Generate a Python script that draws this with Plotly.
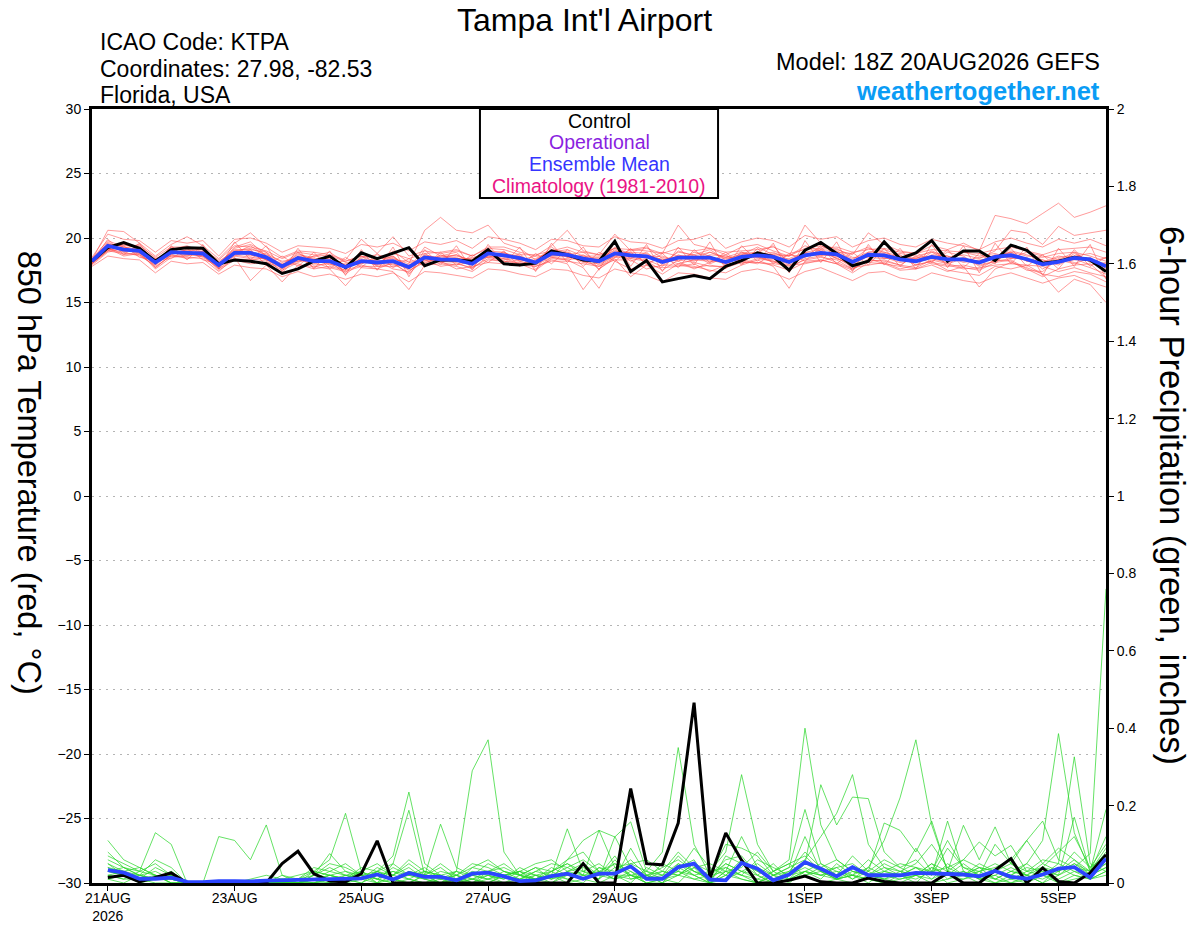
import pandas as pd
import plotly.graph_objects as go

# 6-hourly steps from the 18Z 20AUG2026 run, 16 days
times = pd.date_range("2026-08-20 18:00", periods=65, freq="6h")
precip_times = times[1:]

tick_dates = ["2026-08-21", "2026-08-23", "2026-08-25", "2026-08-27",
              "2026-08-29", "2026-09-01", "2026-09-03", "2026-09-05"]
tick_text = ["21AUG<br>2026", "23AUG", "25AUG", "27AUG", "29AUG", "1SEP", "3SEP", "5SEP"]

# 850 hPa temperature, deg C
temp_control = [18.2, 19.25, 19.65, 19.2, 18.2, 19.1, 19.25, 19.2, 18.0, 18.3,
                18.2, 18.0, 17.25, 17.6, 18.2, 18.6, 17.7, 18.85, 18.4, 18.8,
                19.25, 17.85, 18.3, 18.3, 18.2, 19.1, 18.0, 17.9, 18.05, 19.0,
                18.7, 18.3, 18.2, 19.75, 17.4, 18.25, 16.6, 16.85, 17.1, 16.85,
                17.8, 18.25, 18.85, 18.55, 17.5, 19.05, 19.65, 18.8, 17.85, 18.2,
                19.7, 18.4, 18.85, 19.8, 18.2, 19.0, 19.0, 18.25, 19.45, 19.05,
                18.05, 18.2, 18.5, 18.3, 17.4]
temp_mean = [18.2, 19.4, 19.1, 19.0, 18.1, 18.9, 18.85, 18.8, 17.9, 18.85,
             18.85, 18.5, 17.8, 18.45, 18.2, 18.2, 17.75, 18.2, 18.1, 18.2,
             17.75, 18.5, 18.35, 18.3, 18.0, 18.8, 18.65, 18.45, 18.1, 18.8,
             18.7, 18.4, 18.2, 18.8, 18.66, 18.58, 18.14, 18.48, 18.48, 18.48,
             18.14, 18.53, 18.66, 18.53, 18.14, 18.66, 18.84, 18.74, 18.14, 18.7,
             18.66, 18.35, 18.2, 18.53, 18.35, 18.35, 18.1, 18.53, 18.66, 18.35,
             17.96, 18.14, 18.45, 18.35, 17.8]

T01 = [18.1, 19.3, 19.5, 19.2, 18.3, 19.0, 18.7, 18.9, 18.0, 19.2,
       19.5, 18.9, 17.6, 18.6, 18.4, 18.0, 17.5, 18.5, 18.7, 18.4,
       18.0, 20.6, 21.6, 20.6, 20.4, 21.0, 19.6, 19.2, 18.3, 19.1,
       18.9, 18.2, 17.8, 18.5, 19.1, 19.3, 18.4, 18.0, 18.3, 18.9,
       18.5, 18.2, 18.0, 18.8, 18.6, 19.4, 19.0, 18.4, 18.0, 18.9,
       19.1, 18.7, 17.9, 18.2, 18.9, 18.6, 17.8, 18.2, 19.0, 18.7,
       18.3, 17.9, 18.6, 18.8, 18.4]
T02 = [18.0, 19.0, 18.8, 18.7, 17.8, 18.6, 18.5, 18.4, 17.4, 18.5,
       16.7, 17.9, 16.6, 17.9, 17.8, 17.6, 16.3, 17.7, 17.6, 17.4,
       16.0, 17.9, 18.0, 17.8, 17.4, 18.3, 18.2, 18.0, 17.5, 18.4,
       18.3, 17.7, 16.1, 18.2, 17.6, 17.9, 17.2, 18.0, 17.8, 17.5,
       17.3, 17.9, 18.3, 17.8, 16.1, 18.2, 18.3, 18.0, 17.3, 18.1,
       18.0, 17.5, 17.6, 17.9, 17.4, 17.8, 16.2, 17.6, 18.1, 17.7,
       17.2, 15.8, 16.8, 16.4, 15.0]
T03 = [18.3, 20.6, 20.5, 19.6, 18.6, 19.5, 20.1, 19.4, 18.4, 19.6,
       20.4, 19.3, 18.5, 19.0, 18.9, 18.7, 18.3, 19.9, 18.8, 20.1,
       18.6, 19.0, 18.8, 19.0, 18.6, 19.3, 19.3, 18.9, 18.6, 19.4,
       20.6, 19.0, 18.7, 20.3, 19.0, 19.2, 18.8, 21.0, 19.5, 19.2,
       18.7, 19.3, 19.5, 19.0, 18.6, 21.0, 19.6, 19.1, 18.7, 20.4,
       19.5, 19.0, 18.8, 19.4, 19.1, 19.6, 19.0, 21.75, 21.5, 21.1,
       21.9, 22.7, 21.6, 22.0, 22.5]
T04 = [18.4, 19.8, 19.3, 19.1, 18.0, 19.2, 19.0, 18.6, 17.9, 19.0,
       19.0, 18.3, 17.9, 18.9, 18.0, 18.5, 17.9, 18.0, 18.4, 18.6,
       17.6, 19.3, 18.6, 18.9, 17.7, 19.0, 18.9, 18.2, 18.4, 19.0,
       18.5, 18.6, 18.6, 19.2, 18.4, 18.9, 17.9, 19.0, 18.6, 18.9,
       18.4, 18.7, 19.3, 18.7, 18.6, 19.2, 19.4, 18.9, 18.3, 19.2,
       18.9, 18.6, 18.4, 19.0, 18.5, 18.7, 18.4, 19.0, 20.6, 20.4,
       19.5, 20.9, 20.2, 20.4, 20.6]
T05 = [18.0, 19.5, 18.9, 19.3, 17.7, 18.7, 19.1, 18.9, 17.6, 18.6,
       18.4, 18.2, 17.5, 18.1, 18.6, 18.4, 17.3, 18.6, 17.8, 18.0,
       17.3, 18.8, 18.1, 17.9, 18.2, 18.5, 18.3, 18.8, 17.6, 18.5,
       18.4, 18.7, 17.9, 18.6, 18.9, 18.0, 18.5, 18.2, 17.6, 18.1,
       18.7, 18.0, 18.4, 18.2, 17.8, 18.3, 18.5, 18.3, 17.6, 18.3,
       18.2, 17.9, 18.6, 18.0, 17.8, 17.9, 17.6, 18.3, 18.2, 17.5,
       17.4, 18.4, 18.1, 17.7, 17.2]
T06 = [18.2, 19.2, 19.3, 18.8, 18.4, 18.9, 18.6, 19.0, 18.2, 19.0,
       19.2, 18.7, 18.2, 18.4, 17.9, 18.0, 17.9, 18.0, 18.5, 18.3,
       18.2, 18.2, 18.6, 18.6, 18.3, 18.6, 18.4, 18.0, 18.3, 18.9,
       18.8, 18.3, 18.5, 19.0, 18.8, 18.5, 18.6, 18.2, 18.9, 18.6,
       17.9, 18.9, 18.5, 18.3, 18.4, 18.9, 18.6, 19.2, 18.5, 18.5,
       18.4, 18.5, 17.9, 18.7, 18.6, 18.1, 18.3, 18.4, 18.9, 18.2,
       18.3, 18.0, 18.8, 18.2, 18.0]
T07 = [18.1, 19.1, 18.9, 18.6, 17.9, 18.8, 18.9, 18.5, 17.7, 18.9,
       18.6, 18.8, 17.6, 18.3, 18.1, 18.5, 17.6, 18.3, 17.9, 18.2,
       17.5, 18.1, 18.4, 18.5, 17.9, 18.9, 18.5, 18.6, 18.0, 18.6,
       18.6, 18.1, 18.0, 18.6, 18.5, 18.3, 17.8, 18.7, 18.3, 18.2,
       18.2, 18.6, 18.9, 18.6, 17.9, 18.5, 19.1, 18.4, 17.9, 18.6,
       18.5, 18.1, 18.3, 18.4, 18.1, 18.5, 17.9, 18.2, 18.4, 18.5,
       17.6, 18.3, 18.0, 18.5, 17.6]
T08 = [18.3, 19.6, 19.0, 19.1, 18.2, 18.6, 18.7, 18.8, 18.1, 18.7,
       18.9, 18.3, 17.9, 18.7, 18.5, 17.9, 18.0, 18.1, 18.3, 17.9,
       17.9, 18.6, 18.1, 18.4, 18.4, 18.7, 18.9, 18.3, 18.2, 19.3,
       18.5, 18.5, 18.3, 19.1, 18.2, 18.6, 18.3, 18.5, 18.2, 18.7,
       18.6, 18.3, 18.7, 18.9, 18.3, 18.8, 18.7, 18.6, 18.0, 18.8,
       18.7, 18.2, 18.5, 18.6, 18.0, 18.4, 18.2, 18.7, 18.5, 18.3,
       18.1, 18.6, 18.4, 17.9, 18.1]
T09 = [17.9, 18.9, 19.2, 18.9, 18.0, 19.1, 18.8, 18.6, 17.8, 18.7,
       18.5, 18.4, 17.9, 18.0, 17.6, 17.8, 17.5, 17.9, 17.6, 18.1,
       17.2, 18.4, 18.2, 17.6, 17.8, 18.1, 18.0, 17.9, 17.8, 18.3,
       18.0, 16.0, 17.6, 18.4, 17.0, 17.9, 17.7, 17.8, 18.0, 17.4,
       17.9, 18.3, 18.1, 17.9, 17.5, 18.1, 18.2, 18.5, 17.7, 17.9,
       18.1, 17.6, 17.9, 18.2, 17.5, 17.3, 17.1, 17.8, 17.6, 17.9,
       17.2, 17.0, 17.4, 17.2, 16.6]
T10 = [18.2, 19.7, 19.0, 19.0, 18.1, 19.3, 18.9, 19.2, 17.9, 19.3,
       19.7, 18.6, 17.8, 18.8, 18.3, 18.3, 17.8, 18.4, 18.0, 18.5,
       17.8, 18.6, 18.5, 18.7, 18.1, 18.7, 18.8, 18.6, 18.0, 18.9,
       19.1, 18.6, 18.4, 18.9, 18.9, 18.8, 18.1, 18.9, 18.7, 19.1,
       18.3, 18.8, 18.9, 19.4, 18.0, 18.9, 19.1, 19.0, 18.4, 18.9,
       18.9, 18.4, 18.1, 18.9, 18.6, 18.2, 18.5, 18.6, 18.9, 18.6,
       18.5, 18.8, 18.9, 18.6, 18.2]
T11 = [18.0, 19.3, 18.7, 18.9, 17.6, 18.5, 18.6, 18.7, 17.5, 18.3,
       18.0, 18.1, 17.7, 18.5, 18.1, 17.7, 17.4, 17.8, 17.8, 17.8,
       17.9, 18.3, 17.8, 18.0, 17.7, 18.4, 18.2, 18.1, 17.8, 18.2,
       18.2, 18.0, 17.8, 18.3, 18.3, 17.6, 17.9, 17.9, 17.7, 17.9,
       17.7, 18.1, 18.1, 18.0, 17.9, 18.0, 18.3, 18.0, 17.5, 18.4,
       18.0, 17.8, 17.6, 18.1, 17.9, 17.6, 17.7, 17.9, 18.0, 17.9,
       17.8, 17.4, 17.7, 17.3, 17.0]
T12 = [18.4, 19.5, 19.4, 19.4, 18.5, 19.3, 19.3, 19.1, 18.3, 19.4,
       19.3, 19.0, 18.4, 18.9, 18.7, 18.6, 18.2, 18.6, 18.4, 18.8,
       18.4, 18.8, 18.9, 19.1, 18.6, 19.2, 19.1, 18.7, 18.7, 19.0,
       19.3, 18.9, 18.7, 19.2, 19.1, 19.0, 18.8, 19.2, 19.0, 19.2,
       18.9, 19.0, 19.1, 19.3, 18.8, 19.1, 19.2, 19.3, 18.9, 19.1,
       19.2, 18.9, 18.8, 19.1, 19.0, 18.9, 18.8, 19.1, 19.3, 19.0,
       18.7, 19.1, 19.2, 19.3, 18.9]
T13 = [18.0, 19.0, 19.6, 19.3, 18.2, 19.1, 19.4, 18.9, 17.8, 18.8,
       19.4, 18.6, 18.0, 18.2, 18.6, 18.9, 18.1, 18.2, 17.9, 19.0,
       18.1, 18.0, 18.7, 18.2, 18.5, 18.5, 18.6, 18.3, 18.6, 18.6,
       18.7, 18.9, 18.1, 19.3, 18.7, 18.4, 18.9, 18.6, 18.7, 18.0,
       18.5, 18.9, 18.6, 18.1, 18.7, 18.5, 19.4, 18.9, 18.8, 19.3,
       18.4, 18.8, 18.6, 18.9, 18.3, 18.9, 18.6, 18.8, 18.4, 18.9,
       18.6, 18.3, 18.9, 18.1, 18.5]
T14 = [18.3, 19.2, 18.6, 18.8, 17.7, 18.7, 18.4, 18.6, 17.6, 18.4,
       18.3, 18.5, 17.3, 18.6, 17.7, 18.2, 17.2, 18.1, 18.2, 17.6,
       17.4, 18.3, 18.2, 18.1, 17.6, 18.6, 18.4, 18.2, 17.9, 18.5,
       18.3, 18.5, 17.6, 18.5, 18.4, 18.2, 17.5, 18.3, 18.1, 17.8,
       17.8, 18.4, 18.5, 18.2, 17.6, 18.4, 18.6, 18.1, 17.6, 18.2,
       18.3, 17.9, 17.7, 18.3, 18.0, 17.7, 17.5, 18.1, 18.3, 17.6,
       17.0, 17.6, 17.9, 18.0, 16.9]
T15 = [18.1, 19.4, 19.2, 19.5, 18.4, 18.8, 19.0, 19.3, 18.1, 19.1,
       19.1, 18.9, 18.1, 18.5, 18.2, 18.1, 18.2, 18.6, 18.1, 18.6,
       17.7, 18.7, 18.4, 18.7, 18.2, 18.9, 18.7, 18.5, 18.1, 18.7,
       18.9, 18.4, 18.2, 18.7, 18.6, 18.7, 18.3, 18.6, 18.5, 18.6,
       18.1, 18.7, 18.8, 18.7, 18.2, 18.8, 18.9, 18.8, 18.2, 18.7,
       18.8, 18.3, 18.4, 18.6, 18.4, 18.3, 18.2, 18.5, 18.8, 18.2,
       18.0, 18.5, 18.6, 18.4, 17.9]
T16 = [18.2, 19.1, 19.2, 18.7, 18.0, 19.0, 18.8, 19.0, 17.7, 18.9,
       18.7, 18.3, 17.7, 18.2, 18.3, 18.2, 17.7, 18.2, 18.2, 18.1,
       17.6, 18.4, 18.3, 18.2, 17.9, 18.7, 18.6, 18.4, 18.2, 18.7,
       18.6, 18.2, 18.3, 18.8, 18.6, 18.6, 18.1, 18.4, 18.4, 18.3,
       18.0, 18.5, 18.6, 18.4, 18.1, 18.6, 18.7, 18.6, 18.1, 18.6,
       18.6, 18.3, 18.1, 18.5, 18.3, 18.4, 18.0, 18.5, 18.6, 18.4,
       17.9, 18.2, 18.3, 18.4, 17.7]
T17 = [18.5, 20.3, 19.9, 19.8, 18.9, 19.8, 19.6, 19.8, 18.6, 19.9,
       20.0, 19.6, 18.9, 19.4, 19.3, 19.2, 18.8, 19.5, 19.3, 19.6,
       19.0, 19.7, 19.5, 19.8, 19.2, 20.1, 19.9, 19.6, 19.1, 19.9,
       19.8, 19.4, 19.3, 20.1, 19.7, 19.6, 19.2, 19.8, 19.9, 20.3,
       19.2, 19.7, 20.0, 19.8, 19.3, 20.2, 19.9, 20.1, 19.3, 19.8,
       20.0, 19.5, 19.3, 19.9, 19.6, 19.4, 19.1, 19.7, 20.0, 19.6,
       19.3, 19.9, 19.6, 19.9, 19.4]
T18 = [17.8, 18.6, 18.4, 18.3, 17.3, 18.2, 18.0, 18.1, 17.2, 17.9,
       17.7, 17.6, 17.0, 17.4, 17.0, 17.2, 16.8, 17.2, 17.0, 17.3,
       16.6, 17.4, 17.3, 17.1, 16.9, 17.6, 17.5, 17.2, 17.0, 17.6,
       17.5, 17.1, 16.9, 17.6, 17.3, 17.1, 16.6, 17.3, 17.2, 16.9,
       16.8, 17.4, 17.6, 17.3, 16.8, 17.4, 17.7, 17.2, 16.7, 17.3,
       17.4, 16.9, 16.7, 17.3, 17.0, 16.7, 16.5, 17.0, 17.3, 16.9,
       16.5, 16.9, 17.1, 16.6, 16.2]
T19 = [18.2, 19.9, 18.7, 19.6, 17.9, 19.4, 18.3, 19.5, 17.6, 19.7,
       18.3, 19.4, 17.4, 19.2, 17.6, 19.0, 17.1, 19.1, 17.5, 19.3,
       17.0, 19.1, 17.9, 19.4, 17.5, 19.5, 18.0, 19.3, 17.4, 19.6,
       18.1, 19.3, 17.5, 19.7, 17.8, 19.5, 17.4, 19.3, 17.9, 19.7,
       17.6, 19.4, 18.2, 19.6, 17.3, 19.8, 18.1, 19.7, 17.4, 19.5,
       17.9, 19.2, 17.6, 19.5, 17.7, 19.4, 17.3, 19.6, 18.0, 19.3,
       17.1, 19.2, 17.8, 19.5, 16.8]
T20 = [18.1, 19.0, 19.4, 18.5, 18.3, 18.4, 19.2, 18.3, 18.0, 18.6,
       19.1, 17.9, 18.6, 17.8, 18.9, 17.6, 18.5, 17.7, 18.8, 17.7,
       18.4, 17.8, 18.9, 17.9, 18.7, 18.1, 19.0, 17.8, 18.8, 18.0,
       19.1, 17.8, 18.9, 18.2, 19.2, 17.9, 18.8, 17.7, 19.1, 18.1,
       18.9, 17.9, 19.2, 18.0, 18.8, 18.2, 19.3, 18.0, 18.9, 17.9,
       19.2, 17.8, 18.9, 18.1, 19.1, 17.7, 18.8, 18.0, 19.2, 17.8,
       18.7, 17.6, 19.1, 17.8, 18.5]

# 6-hour precipitation, inches (first value ends at 00Z 21AUG)
precip_control = [0.014, 0.02, 0.003, 0.014, 0.026, 0, 0, 0, 0, 0,
                  0, 0.05, 0.082, 0.024, 0.005, 0.003, 0.024, 0.109, 0, 0,
                  0, 0, 0, 0, 0, 0, 0, 0, 0, 0,
                  0.05, 0, 0, 0.244, 0.05, 0.047, 0.155, 0.466, 0.011, 0.129,
                  0.059, 0, 0, 0.007, 0.018, 0.003, 0, 0, 0.013, 0.004,
                  0, 0, 0, 0.026, 0, 0, 0.033, 0.063, 0, 0.039,
                  0.004, 0, 0.026, 0.073]
precip_mean = [0.033, 0.027, 0.011, 0.011, 0.014, 0.003, 0.002, 0.005, 0.005, 0.004,
               0.006, 0.007, 0.008, 0.008, 0.009, 0.010, 0.012, 0.022, 0.009, 0.026,
               0.016, 0.016, 0.007, 0.024, 0.027, 0.017, 0.005, 0.007, 0.018, 0.024,
               0.011, 0.024, 0.024, 0.043, 0.011, 0.011, 0.041, 0.05, 0.009, 0.007,
               0.052, 0.037, 0.007, 0.022, 0.054, 0.037, 0.017, 0.041, 0.02, 0.02,
               0.02, 0.026, 0.024, 0.022, 0.022, 0.017, 0.031, 0.016, 0.011, 0.022,
               0.037, 0.041, 0.014, 0.063]

P01 = [0.03, 0.02, 0.01, 0.0, 0.0, 0.0, 0.0, 0.0, 0.0, 0.01,
       0.02, 0.01, 0.0, 0.03, 0.02, 0.01, 0.0, 0.03, 0.02, 0.01,
       0.0, 0.01, 0.03, 0.29, 0.37, 0.08, 0.02, 0.01, 0.0, 0.03,
       0.05, 0.02, 0.01, 0.03, 0.0, 0.0, 0.02, 0.05, 0.0, 0.01,
       0.03, 0.02, 0.0, 0.01, 0.05, 0.03, 0.01, 0.0, 0.02, 0.01,
       0.0, 0.02, 0.03, 0.0, 0.01, 0.02, 0.0, 0.01, 0.03, 0.02,
       0.0, 0.01, 0.02, 0.05]
P02 = [0.11, 0.06, 0.04, 0.02, 0.0, 0.0, 0.0, 0.12, 0.11, 0.06,
       0.15, 0.02, 0.0, 0.01, 0.02, 0.01, 0.03, 0.0, 0.01, 0.02,
       0.01, 0.0, 0.02, 0.01, 0.0, 0.02, 0.03, 0.01, 0.02, 0.14,
       0.03, 0.01, 0.12, 0.04, 0.02, 0.0, 0.05, 0.02, 0.0, 0.02,
       0.01, 0.0, 0.02, 0.04, 0.19, 0.05, 0.03, 0.02, 0.01, 0.0,
       0.02, 0.04, 0.02, 0.16, 0.03, 0.01, 0.02, 0.0, 0.01, 0.04,
       0.02, 0.17, 0.03, 0.19]
P03 = [0.07, 0.05, 0.03, 0.13, 0.1, 0.0, 0.0, 0.0, 0.0, 0.0,
       0.0, 0.02, 0.01, 0.04, 0.03, 0.02, 0.01, 0.0, 0.02, 0.05,
       0.02, 0.0, 0.01, 0.03, 0.02, 0.0, 0.01, 0.03, 0.05, 0.04,
       0.02, 0.01, 0.04, 0.02, 0.01, 0.03, 0.08, 0.04, 0.0, 0.03,
       0.02, 0.01, 0.03, 0.06, 0.4, 0.15, 0.06, 0.03, 0.02, 0.01,
       0.03, 0.02, 0.01, 0.03, 0.02, 0.04, 0.03, 0.01, 0.0, 0.02,
       0.05, 0.03, 0.01, 0.03]
P04 = [0.05, 0.03, 0.02, 0.01, 0.02, 0.0, 0.0, 0.0, 0.0, 0.0,
       0.0, 0.01, 0.02, 0.03, 0.06, 0.18, 0.03, 0.01, 0.04, 0.02,
       0.03, 0.02, 0.0, 0.01, 0.03, 0.02, 0.0, 0.02, 0.03, 0.01,
       0.0, 0.04, 0.02, 0.05, 0.03, 0.08, 0.35, 0.1, 0.02, 0.03,
       0.12, 0.04, 0.02, 0.0, 0.03, 0.02, 0.01, 0.03, 0.02, 0.04,
       0.02, 0.0, 0.04, 0.02, 0.01, 0.03, 0.05, 0.03, 0.02, 0.01,
       0.03, 0.05, 0.02, 0.04]
P05 = [0.04, 0.02, 0.02, 0.03, 0.01, 0.0, 0.0, 0.0, 0.0, 0.0,
       0.0, 0.0, 0.01, 0.02, 0.04, 0.02, 0.01, 0.03, 0.07, 0.235,
       0.05, 0.02, 0.03, 0.01, 0.0, 0.02, 0.01, 0.03, 0.02, 0.01,
       0.02, 0.03, 0.05, 0.02, 0.0, 0.01, 0.04, 0.02, 0.03, 0.08,
       0.28, 0.1, 0.03, 0.01, 0.02, 0.03, 0.01, 0.02, 0.04, 0.11,
       0.22, 0.37, 0.15, 0.03, 0.02, 0.04, 0.01, 0.03, 0.05, 0.02,
       0.01, 0.03, 0.02, 0.06]
P06 = [0.02, 0.01, 0.03, 0.02, 0.0, 0.0, 0.0, 0.0, 0.0, 0.0,
       0.0, 0.0, 0.0, 0.01, 0.02, 0.03, 0.02, 0.0, 0.05, 0.188,
       0.02, 0.152, 0.04, 0.02, 0.03, 0.05, 0.02, 0.01, 0.03, 0.05,
       0.03, 0.02, 0.07, 0.01, 0.02, 0.04, 0.06, 0.03, 0.01, 0.05,
       0.03, 0.05, 0.02, 0.04, 0.06, 0.12, 0.18, 0.28, 0.1, 0.04,
       0.03, 0.02, 0.05, 0.03, 0.06, 0.04, 0.03, 0.02, 0.05, 0.11,
       0.386, 0.13, 0.03, 0.08]
P07 = [0.03, 0.04, 0.02, 0.06, 0.04, 0.0, 0.0, 0.0, 0.0, 0.0,
       0.0, 0.01, 0.0, 0.02, 0.05, 0.04, 0.02, 0.03, 0.01, 0.03,
       0.02, 0.05, 0.02, 0.0, 0.03, 0.04, 0.02, 0.04, 0.01, 0.06,
       0.08, 0.03, 0.02, 0.02, 0.03, 0.01, 0.03, 0.09, 0.04, 0.02,
       0.05, 0.03, 0.01, 0.03, 0.05, 0.254, 0.15, 0.222, 0.218, 0.08,
       0.04, 0.06, 0.02, 0.09, 0.04, 0.02, 0.1, 0.05, 0.03, 0.06,
       0.05, 0.326, 0.05, 0.03]
P08 = [0.01, 0.02, 0.01, 0.01, 0.03, 0.0, 0.0, 0.0, 0.0, 0.0,
       0.0, 0.0, 0.0, 0.0, 0.01, 0.02, 0.01, 0.02, 0.03, 0.01,
       0.03, 0.02, 0.0, 0.04, 0.03, 0.02, 0.03, 0.02, 0.01, 0.02,
       0.01, 0.04, 0.03, 0.06, 0.02, 0.03, 0.02, 0.05, 0.03, 0.04,
       0.02, 0.06, 0.04, 0.02, 0.03, 0.05, 0.02, 0.04, 0.03, 0.155,
       0.136, 0.08, 0.16, 0.03, 0.149, 0.06, 0.145, 0.05, 0.11, 0.16,
       0.06, 0.04, 0.076, 0.76]
P09 = [0.06, 0.04, 0.02, 0.01, 0.03, 0.0, 0.0, 0.0, 0.0, 0.0,
       0.0, 0.0, 0.0, 0.02, 0.076, 0.03, 0.01, 0.04, 0.02, 0.06,
       0.03, 0.01, 0.02, 0.04, 0.06, 0.03, 0.02, 0.0, 0.03, 0.06,
       0.11, 0.136, 0.119, 0.158, 0.03, 0.02, 0.05, 0.03, 0.02, 0.1,
       0.09, 0.07, 0.02, 0.03, 0.08, 0.04, 0.06, 0.03, 0.02, 0.05,
       0.03, 0.05, 0.1, 0.04, 0.06, 0.106, 0.07, 0.097, 0.03, 0.04,
       0.08, 0.12, 0.04, 0.1]
P10 = [0.04, 0.03, 0.04, 0.02, 0.01, 0.0, 0.0, 0.0, 0.0, 0.0,
       0.0, 0.0, 0.01, 0.03, 0.02, 0.01, 0.04, 0.03, 0.05, 0.02,
       0.01, 0.03, 0.02, 0.05, 0.04, 0.02, 0.03, 0.05, 0.06, 0.03,
       0.02, 0.136, 0.04, 0.05, 0.06, 0.03, 0.02, 0.04, 0.05, 0.03,
       0.04, 0.08, 0.03, 0.05, 0.07, 0.03, 0.04, 0.05, 0.02, 0.03,
       0.05, 0.04, 0.03, 0.11, 0.04, 0.03, 0.04, 0.06, 0.11, 0.05,
       0.09, 0.06, 0.03, 0.05]
P11 = [0.02, 0.01, 0.01, 0.04, 0.02, 0.0, 0.0, 0.0, 0.0, 0.0,
       0.0, 0.0, 0.0, 0.0, 0.0, 0.01, 0.0, 0.02, 0.01, 0.0,
       0.02, 0.0, 0.01, 0.02, 0.01, 0.0, 0.02, 0.01, 0.04, 0.02,
       0.01, 0.0, 0.02, 0.01, 0.02, 0.0, 0.04, 0.06, 0.0, 0.02,
       0.06, 0.03, 0.01, 0.02, 0.04, 0.02, 0.03, 0.01, 0.04, 0.02,
       0.01, 0.02, 0.04, 0.02, 0.03, 0.01, 0.02, 0.04, 0.02, 0.0,
       0.04, 0.02, 0.01, 0.02]
P12 = [0.05, 0.02, 0.01, 0.01, 0.01, 0.0, 0.0, 0.0, 0.0, 0.0,
       0.0, 0.0, 0.0, 0.01, 0.0, 0.02, 0.03, 0.01, 0.0, 0.01,
       0.0, 0.02, 0.0, 0.01, 0.02, 0.01, 0.04, 0.02, 0.01, 0.03,
       0.04, 0.02, 0.05, 0.03, 0.01, 0.02, 0.03, 0.01, 0.02, 0.06,
       0.07, 0.02, 0.05, 0.01, 0.03, 0.01, 0.05, 0.02, 0.06, 0.03,
       0.02, 0.04, 0.01, 0.05, 0.02, 0.05, 0.03, 0.02, 0.04, 0.03,
       0.02, 0.05, 0.03, 0.12]
P13 = [0.02, 0.03, 0.01, 0.02, 0.0, 0.0, 0.0, 0.0, 0.0, 0.0,
       0.0, 0.0, 0.01, 0.0, 0.02, 0.01, 0.03, 0.05, 0.02, 0.04,
       0.01, 0.0, 0.03, 0.02, 0.05, 0.03, 0.01, 0.02, 0.0, 0.02,
       0.03, 0.05, 0.02, 0.0, 0.04, 0.02, 0.07, 0.03, 0.01, 0.04,
       0.02, 0.0, 0.03, 0.05, 0.02, 0.04, 0.02, 0.07, 0.03, 0.01,
       0.02, 0.09, 0.03, 0.04, 0.02, 0.0, 0.03, 0.05, 0.02, 0.04,
       0.03, 0.06, 0.02, 0.04]
P14 = [0.08, 0.04, 0.03, 0.05, 0.02, 0.0, 0.0, 0.0, 0.0, 0.0,
       0.0, 0.0, 0.0, 0.01, 0.03, 0.05, 0.02, 0.01, 0.03, 0.02,
       0.04, 0.01, 0.0, 0.02, 0.01, 0.03, 0.02, 0.04, 0.03, 0.05,
       0.02, 0.01, 0.06, 0.02, 0.01, 0.05, 0.03, 0.02, 0.0, 0.07,
       0.05, 0.02, 0.0, 0.01, 0.03, 0.02, 0.04, 0.01, 0.03, 0.06,
       0.04, 0.02, 0.05, 0.01, 0.02, 0.03, 0.01, 0.0, 0.02, 0.05,
       0.03, 0.08, 0.04, 0.07]
P15 = [0.01, 0.0, 0.02, 0.01, 0.01, 0.0, 0.0, 0.0, 0.0, 0.0,
       0.0, 0.0, 0.0, 0.0, 0.0, 0.0, 0.01, 0.03, 0.01, 0.0,
       0.02, 0.01, 0.02, 0.0, 0.01, 0.02, 0.0, 0.01, 0.02, 0.0,
       0.01, 0.03, 0.01, 0.02, 0.0, 0.01, 0.02, 0.01, 0.0, 0.03,
       0.01, 0.0, 0.02, 0.01, 0.02, 0.0, 0.01, 0.02, 0.01, 0.0,
       0.01, 0.02, 0.0, 0.01, 0.03, 0.01, 0.0, 0.02, 0.01, 0.03,
       0.0, 0.02, 0.01, 0.03]
P16 = [0.03, 0.02, 0.0, 0.01, 0.02, 0.0, 0.0, 0.0, 0.0, 0.0,
       0.0, 0.0, 0.0, 0.0, 0.01, 0.0, 0.02, 0.01, 0.0, 0.03,
       0.02, 0.04, 0.01, 0.0, 0.02, 0.01, 0.03, 0.0, 0.02, 0.04,
       0.06, 0.03, 0.01, 0.09, 0.02, 0.01, 0.0, 0.04, 0.02, 0.05,
       0.03, 0.01, 0.0, 0.02, 0.12, 0.03, 0.01, 0.02, 0.0, 0.03,
       0.02, 0.01, 0.03, 0.02, 0.05, 0.02, 0.01, 0.03, 0.02, 0.0,
       0.02, 0.04, 0.03, 0.09]

temp_members = [T01, T02, T03, T04, T05, T06, T07, T08, T09, T10,
                T11, T12, T13, T14, T15, T16, T17, T18, T19, T20]
precip_members = [P01, P02, P03, P04, P05, P06, P07, P08, P09, P10,
                  P11, P12, P13, P14, P15, P16]

FONT = "Liberation Sans"
RED = "rgba(255,75,75,0.7)"
GREEN = "rgba(40,215,40,0.9)"
BLUE = "#2b45ff"

fig = go.Figure()

for member in temp_members:
    fig.add_trace(go.Scatter(x=times, y=member, mode="lines", yaxis="y",
                             line=dict(color=RED, width=0.8), hoverinfo="skip"))
for member in precip_members:
    fig.add_trace(go.Scatter(x=precip_times, y=member, mode="lines", yaxis="y2",
                             line=dict(color=GREEN, width=0.8), hoverinfo="skip"))

fig.add_trace(go.Scatter(x=times, y=temp_control, mode="lines", yaxis="y",
                         line=dict(color="black", width=3)))
fig.add_trace(go.Scatter(x=precip_times, y=precip_control, mode="lines", yaxis="y2",
                         line=dict(color="black", width=3)))
fig.add_trace(go.Scatter(x=times, y=temp_mean, mode="lines", yaxis="y",
                         line=dict(color=BLUE, width=3.8)))
fig.add_trace(go.Scatter(x=precip_times, y=precip_mean, mode="lines", yaxis="y2",
                         line=dict(color=BLUE, width=3.8)))

legend_rows = [
    ("Control", "black", 0.9845),
    ("Operational", "#8a1fe0", 0.957),
    ("Ensemble Mean", "#3535ff", 0.929),
    ("Climatology (1981-2010)", "#ea1384", 0.9005),
]

annotations = [
    dict(text="Tampa Int'l Airport", x=0.486, y=1.115, font=dict(size=32)),
    dict(text="ICAO Code: KTPA", x=0.006, y=1.0866, xanchor="left", font=dict(size=23)),
    dict(text="Coordinates: 27.98, -82.53", x=0.006, y=1.0523, xanchor="left", font=dict(size=23)),
    dict(text="Florida, USA", x=0.006, y=1.0185, xanchor="left", font=dict(size=23)),
    dict(text="Model: 18Z 20AUG2026 GEFS", x=0.9965, y=1.0607, xanchor="right", font=dict(size=23.5)),
    dict(text="<b>weathertogether.net</b>", x=0.9965, y=1.0238, xanchor="right",
         font=dict(size=25.5, color="#0a9cf5")),
    dict(text="850 hPa Temperature (red, °C)", x=-0.062, y=0.530, textangle=90, font=dict(size=32.5)),
    dict(text="6-hour Precipitation (green, inches)", x=1.065, y=0.5, textangle=90, font=dict(size=34.5)),
]
for label, color, ypos in legend_rows:
    annotations.append(dict(text=label, x=0.5, y=ypos, font=dict(size=19.5, color=color)))
for a in annotations:
    a.update(xref="paper", yref="paper", showarrow=False)
    a.setdefault("xanchor", "center")
    a["yanchor"] = "middle"
    a["font"] = dict(family=FONT, color=a["font"].get("color", "black"), size=a["font"]["size"])

fig.update_layout(
    width=1200,
    height=927,
    margin=dict(l=92, r=94, t=109, b=44),
    paper_bgcolor="white",
    plot_bgcolor="white",
    showlegend=False,
    font=dict(family=FONT, size=14, color="black"),
    annotations=annotations,
    shapes=[dict(type="rect", xref="paper", yref="paper", x0=0.3826, x1=0.6174, y0=0.885, y1=1.0,
                 line=dict(color="black", width=2), fillcolor="white", layer="above")],
    xaxis=dict(
        type="date",
        range=[times[0], times[-1]],
        tickvals=tick_dates,
        ticktext=tick_text,
        ticks="outside",
        ticklen=5,
        tickcolor="black",
        tickfont=dict(size=14),
        ticklabelstandoff=-5,
        showgrid=False,
        zeroline=False,
        showline=True,
        linecolor="black",
        linewidth=3,
        mirror=True,
        automargin=False,
    ),
    yaxis=dict(
        range=[-30, 30],
        dtick=5,
        ticks="outside",
        ticklen=5,
        tickcolor="black",
        tickfont=dict(size=14),
        showgrid=True,
        gridcolor="#b4b4b4",
        gridwidth=1,
        griddash="2px,5px",
        zeroline=False,
        showline=True,
        linecolor="black",
        linewidth=3,
        mirror=True,
        automargin=False,
    ),
    yaxis2=dict(
        range=[0, 2],
        dtick=0.2,
        overlaying="y",
        side="right",
        ticks="outside",
        ticklen=5,
        tickcolor="black",
        tickfont=dict(size=14),
        showgrid=False,
        zeroline=False,
        showline=True,
        linecolor="black",
        linewidth=3,
        automargin=False,
    ),
)

# drop the browser's default page margin so the figure sits at the window's corner
fig.write_html("out.html", config={"displayModeBar": False},
               post_script="document.body.style.margin='0px';")
